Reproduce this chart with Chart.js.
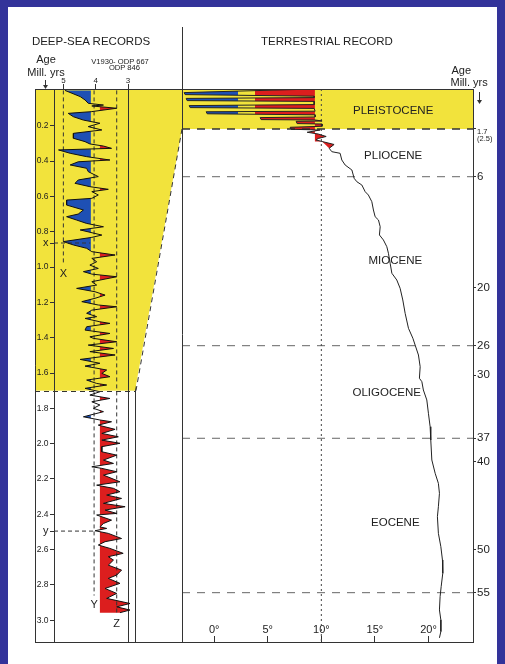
<!DOCTYPE html>
<html>
<head>
<meta charset="utf-8">
<script src="https://cdn.jsdelivr.net/npm/chart.js@4.4.1/dist/chart.umd.min.js"></script>
<style>
html, body { margin: 0; padding: 0; }
body { width: 505px; height: 664px; background: #33339a; position: relative; overflow: hidden;
       font-family: "Liberation Sans", Arial, sans-serif; color: #222; }
#sheet { position: absolute; left: 8px; top: 7px; width: 489px; height: 657px; background: #fff; }
canvas { position: absolute; left: 0; top: 0; }
.t { position: absolute; line-height: 0; white-space: nowrap; }
.c { transform: translateX(-50%); }
</style>
</head>
<body>
<div id="sheet"></div>
<canvas id="deepSea" width="505" height="664"></canvas>
<canvas id="terrestrial" width="505" height="664"></canvas>
<div class="t c" style="left:91px;top:41px;font-size:11.5px">DEEP-SEA RECORDS</div>
<div class="t c" style="left:327px;top:41px;font-size:11.5px">TERRESTRIAL RECORD</div>
<div class="t c" style="left:46px;top:59.2px;font-size:11px">Age</div>
<div class="t c" style="left:46px;top:71.7px;font-size:11px">Mill. yrs</div>
<div class="t c" style="left:120px;top:61.7px;font-size:7.6px">V1930- ODP 667</div>
<div class="t c" style="left:124.5px;top:68.4px;font-size:7.6px">ODP 846</div>
<div class="t" style="left:451.5px;top:69.7px;font-size:11px">Age</div>
<div class="t" style="left:450.5px;top:81.7px;font-size:11px">Mill. yrs</div>
<script>
// ---- deep-sea oxygen isotope record (age in Myr, d18O per mil) ----
const deepSeaAge = [0.000, 0.035, 0.054, 0.073, 0.083, 0.088, 0.101, 0.120, 0.130, 0.149,
  0.168, 0.186, 0.205, 0.224, 0.243, 0.271, 0.290, 0.303, 0.315, 0.328,
  0.337, 0.356, 0.375, 0.394, 0.404, 0.422, 0.441, 0.460, 0.488, 0.507,
  0.526, 0.545, 0.560, 0.573, 0.592, 0.611, 0.621, 0.649, 0.677, 0.700,
  0.715, 0.734, 0.753, 0.772, 0.790, 0.819, 0.832, 0.856, 0.875, 0.894,
  0.913, 0.932, 0.951, 0.970, 0.989, 1.008, 1.026, 1.040, 1.055, 1.083,
  1.102, 1.121, 1.140, 1.159, 1.177, 1.196, 1.215, 1.225, 1.244, 1.262,
  1.281, 1.291, 1.310, 1.319, 1.338, 1.357, 1.376, 1.395, 1.404, 1.423,
  1.442, 1.461, 1.479, 1.498, 1.523, 1.545, 1.561, 1.583, 1.602, 1.621,
  1.640, 1.659, 1.668, 1.687, 1.706, 1.725, 1.744, 1.763, 1.781, 1.800,
  1.819, 1.848, 1.866, 1.876, 1.895, 1.919, 1.942, 1.961, 1.980, 1.998,
  2.017, 2.046, 2.065, 2.093, 2.112, 2.131, 2.140, 2.159, 2.178, 2.216,
  2.235, 2.253, 2.272, 2.291, 2.310, 2.338, 2.357, 2.376, 2.395, 2.404,
  2.433, 2.452, 2.471, 2.480, 2.493, 2.508, 2.537, 2.555, 2.574, 2.593,
  2.621, 2.640, 2.659, 2.688, 2.716, 2.744, 2.763, 2.791, 2.820, 2.848,
  2.876, 2.905, 2.924, 2.942, 2.957];
const deepSeaO18 = [4.95, 4.48, 4.33, 4.23, 3.76, 4.12, 3.35, 4.12, 4.85, 4.69,
  4.38, 3.87, 4.23, 3.81, 4.69, 4.69, 4.33, 4.18, 3.76, 3.51,
  5.15, 4.79, 4.28, 3.56, 4.54, 4.79, 4.28, 4.23, 3.92, 4.54,
  4.64, 4.18, 3.61, 4.12, 3.92, 4.12, 4.90, 4.90, 4.38, 4.54,
  4.90, 4.59, 4.28, 3.76, 4.48, 3.81, 4.12, 5.00, 4.69, 4.28,
  4.12, 3.40, 4.12, 3.97, 4.18, 3.92, 4.38, 4.12, 3.35, 4.12,
  3.97, 4.59, 4.02, 3.71, 4.02, 4.43, 3.92, 3.35, 4.12, 4.28,
  3.97, 4.33, 3.87, 3.56, 4.28, 4.33, 3.56, 4.18, 4.07, 3.35,
  4.23, 3.45, 4.18, 3.40, 4.48, 3.87, 4.33, 3.66, 3.81, 3.56,
  4.28, 3.97, 3.66, 4.33, 3.87, 4.18, 3.56, 4.12, 3.87, 4.07,
  3.76, 4.38, 3.87, 3.51, 3.92, 3.40, 3.81, 3.30, 3.81, 3.25,
  3.81, 3.81, 3.35, 3.76, 3.45, 4.12, 3.81, 3.35, 3.76, 3.25,
  3.97, 3.45, 3.25, 3.66, 3.20, 3.76, 3.09, 3.71, 3.35, 3.97,
  3.51, 3.76, 3.87, 3.66, 4.02, 3.61, 3.20, 3.71, 3.92, 3.56,
  3.15, 3.61, 3.45, 3.61, 3.20, 3.35, 3.61, 3.25, 3.71, 3.35,
  3.66, 2.94, 3.35, 2.94, 3.25];
const coldO18 = 4.15;   // blue beyond this
const warmO18 = 3.87;   // red beyond this

const o18Ticks = [3, 4, 5];
const deepSeaAgeTicks = [0.2, 0.4, 0.6, 0.8, 1.0, 1.2, 1.4, 1.6, 1.8, 2.0, 2.2, 2.4, 2.6, 2.8, 3.0];

// trend lines X, Y, Z and the x / y markers
const trendLabels = ['X', 'Y', 'Z'];
const trendO18 = [5.0, 4.05, 3.35];
const trendEndAge = [0.99, 2.86, 2.97];
const markerLabels = ['x', 'y'];
const markerAges = [0.864, 2.495];
const markerEndO18 = [4.17, 4.02];

// ---- terrestrial temperature record (age in Myr, temperature in deg C) ----
const terrestrialAge = [0.000, 0.153, 0.238, 0.306, 0.366, 0.400, 0.493, 0.527, 0.663, 0.706,
  0.791, 0.825, 0.944, 0.969, 1.054, 1.097, 1.190, 1.216, 1.301, 1.318,
  1.360, 1.373, 1.471, 1.488, 1.585, 1.628, 1.727, 1.790, 1.997, 2.151,
  2.376, 2.557, 2.692, 2.827, 3.097, 3.440, 3.746, 3.890, 4.494, 4.945,
  5.396, 6.20, 6.63, 7.05, 7.89, 8.31, 9.15, 10.20, 11.05, 11.46,
  12.31, 13.35, 13.98, 14.83, 15.66, 16.92, 18.18, 19.03, 20.06, 21.27,
  22.65, 24.20, 25.23, 25.93, 27.27, 28.87, 30.36, 30.74, 31.66, 32.76,
  34.23, 35.72, 37.22, 39.78, 41.31, 42.45, 43.58, 45.10, 46.23, 48.11,
  49.63, 51.17, 52.73, 54.30, 55.47, 57.03, 58.20, 59.57, 60.31];
const terrestrialTemp = [9.33, -2.80, -2.71, 9.33, 9.33, -2.61, -2.52, 9.33, 9.33, -2.33,
  -2.24, 9.33, 9.42, -0.75, -0.65, 9.42, 9.42, 4.29, 4.38, 9.42,
  10.07, 7.65, 7.74, 10.07, 10.07, 7.09, 7.18, 9.89, 8.68, 9.70,
  10.45, 9.70, 9.51, 10.07, 11.19, 10.73, 10.98, 11.75, 11.91, 12.22,
  12.85, 13.06, 13.31, 13.78, 14.09, 14.39, 14.71, 14.86, 15.02, 15.33,
  15.49, 15.42, 15.79, 16.11, 16.26, 16.42, 16.58, 17.04, 17.35, 17.60,
  17.82, 18.13, 18.54, 18.75, 19.06, 19.22, 19.15, 19.38, 19.52, 19.84,
  19.99, 20.15, 20.21, 20.31, 20.62, 20.92, 21.02, 20.92, 20.83, 20.92,
  21.15, 21.30, 21.33, 21.18, 21.08, 21.02, 21.15, 21.15, 21.02];
const glacialEnd = 33;        // last point of the filled glacial swings
const glacialBase = 9.4;      // fill is drawn back to this temperature
const lobeRange = [33, 35];
const coldTemp = 2.2, warmTemp = 3.8;

const tempTicks = [0, 5, 10, 15, 20];
const ageTicks = [1.7, 6, 20, 26, 30, 37, 40, 50, 55];
const epochBoundaries = [1.7, 6, 26, 37, 55];
const epochNames = ['PLEISTOCENE', 'PLIOCENE', 'MIOCENE', 'OLIGOCENE', 'EOCENE'];
const epochLabelAge = [1.08, 4.40, 17.0, 32.3, 47.3];
const epochLabelTemp = [16.7, 16.7, 16.9, 16.1, 16.9];

// the terrestrial age axis is drawn with uneven spacing
const ageAxisKnots = [0, 1.7, 6, 20, 26, 30, 37, 40, 50, 55, 60.8];
const ageAxisFrac = [0, 0.0723, 0.1586, 0.3593, 0.4642, 0.5172, 0.6316, 0.6740, 0.8336, 0.9108, 1];

const FONT = '"Liberation Sans", Arial, sans-serif';
const YELLOW = '#f2e33c', BLUE = '#1e50b4', RED = '#dc1e1e', INK = '#222', LINE = '#333';
const FRAME_LEFT = 35, DIVIDER_TOP = 27;
const pleistoceneBase = epochBoundaries[0];

Chart.defaults.font.family = FONT;
Chart.defaults.color = INK;

function interp(v, xs, ys) {
  let i = 1;
  while (i < xs.length - 1 && v > xs[i]) i++;
  const t = (v - xs[i - 1]) / (xs[i] - xs[i - 1]);
  return ys[i - 1] + t * (ys[i] - ys[i - 1]);
}

class AgeScale extends Chart.LinearScale {
  static id = 'agescale';
  static defaults = {};
  getPixelForValue(value) {
    if (value === null || value === undefined || isNaN(value)) return NaN;
    return this.getPixelForDecimal(interp(value, ageAxisKnots, ageAxisFrac));
  }
  getValueForPixel(pixel) {
    return interp(this.getDecimalForPixel(pixel), ageAxisFrac, ageAxisKnots);
  }
}
Chart.register(AgeScale);

// part of a curve lying beyond `limit`, closed back along the limit line
function sidePolygon(vals, ages, limit, above) {
  const inside = v => above ? v > limit : v < limit;
  const pts = [{x: limit, y: ages[0]}];
  for (let i = 0; i < vals.length; i++) {
    if (i > 0 && inside(vals[i]) !== inside(vals[i - 1])) {
      const t = (limit - vals[i - 1]) / (vals[i] - vals[i - 1]);
      pts.push({x: limit, y: ages[i - 1] + t * (ages[i] - ages[i - 1])});
    }
    pts.push({x: inside(vals[i]) ? vals[i] : limit, y: ages[i]});
  }
  pts.push({x: limit, y: ages[ages.length - 1]});
  return pts;
}

const toPoints = (xs, ys) => xs.map((v, i) => ({x: v, y: ys[i]}));

const lineSet = (data, color, width, dash, order) => ({
  data, showLine: true, borderColor: color, borderWidth: width, borderDash: dash || [],
  pointRadius: 0, fill: false, order: order || 0, borderJoinStyle: 'round'
});
const fillSet = (data, color) => ({
  data, showLine: true, fill: 'shape', backgroundColor: color, borderColor: 'transparent',
  borderWidth: 0, pointRadius: 0, order: 5
});

function arrow(ctx, x, y0, y1) {
  ctx.beginPath();
  ctx.moveTo(x, y0); ctx.lineTo(x, y1 - 3);
  ctx.stroke();
  ctx.beginPath();
  ctx.moveTo(x - 2.5, y1 - 4); ctx.lineTo(x + 2.5, y1 - 4); ctx.lineTo(x, y1);
  ctx.closePath(); ctx.fill();
}

// ---------------- deep-sea panel ----------------
const o18Min = 2.784, o18Max = 5.29;

const deepSeaFrame = {
  id: 'deepSeaFrame',
  beforeDraw(chart) {
    const {ctx, chartArea: a, scales: {y}} = chart;
    ctx.save();
    ctx.fillStyle = YELLOW;
    ctx.fillRect(FRAME_LEFT, a.top, a.right - FRAME_LEFT, y.getPixelForValue(pleistoceneBase) - a.top);
    ctx.restore();
  },
  afterDraw(chart) {
    const {ctx, chartArea: a, scales: {x, y}} = chart;
    ctx.save();
    ctx.strokeStyle = LINE; ctx.fillStyle = LINE; ctx.lineWidth = 1;
    ctx.beginPath();
    ctx.moveTo(FRAME_LEFT + 0.5, a.top); ctx.lineTo(FRAME_LEFT + 0.5, a.bottom + 0.5);
    ctx.moveTo(FRAME_LEFT, a.top + 0.5); ctx.lineTo(a.left, a.top + 0.5);
    ctx.moveTo(FRAME_LEFT, a.bottom + 0.5); ctx.lineTo(a.right, a.bottom + 0.5);
    ctx.moveTo(a.right + 0.5, a.top); ctx.lineTo(a.right + 0.5, a.bottom + 0.5);
    ctx.stroke();
    const yb = Math.round(y.getPixelForValue(pleistoceneBase)) + 0.5;
    ctx.setLineDash([5, 4]);
    ctx.beginPath(); ctx.moveTo(FRAME_LEFT, yb); ctx.lineTo(a.right, yb); ctx.stroke();
    ctx.setLineDash([]);
    arrow(ctx, 45.5, 80, 89);
    ctx.fillStyle = INK;
    ctx.font = '11px ' + FONT;
    ctx.textAlign = 'center'; ctx.textBaseline = 'middle';
    trendLabels.forEach((t, i) => {
      ctx.fillText(t, x.getPixelForValue(trendO18[i]), y.getPixelForValue(trendEndAge[i]) + 9);
    });
    ctx.restore();
  }
};

const deepSeaSets = [
  lineSet(toPoints(deepSeaO18, deepSeaAge), '#111', 1, null, 0),
  ...trendO18.map((v, i) => lineSet([{x: v, y: 0}, {x: v, y: trendEndAge[i]}], LINE, 1, [4, 3], 1)),
  ...markerAges.map((a, i) => lineSet([{x: o18Max, y: a}, {x: markerEndO18[i], y: a}], LINE, 1, [4, 3], 1)),
  fillSet(sidePolygon(deepSeaO18, deepSeaAge, coldO18, true), BLUE),
  fillSet(sidePolygon(deepSeaO18, deepSeaAge, warmO18, false), RED)
];

const deepSeaChart = new Chart(document.getElementById('deepSea'), {
  type: 'scatter',
  data: { datasets: deepSeaSets },
  options: {
    responsive: false, animation: false, events: [],
    layout: { padding: { left: 34, top: 74, right: 370, bottom: 22 } },
    plugins: { legend: { display: false }, tooltip: { enabled: false } },
    scales: {
      x: {
        type: 'linear', position: 'top', reverse: true, min: o18Min, max: o18Max,
        afterBuildTicks: s => { s.ticks = o18Ticks.map(v => ({value: v})); },
        afterFit: s => { s.height = 15; },
        ticks: { autoSkip: false, maxRotation: 0, padding: -2, font: { size: 8 }, color: INK,
                 callback: v => String(v) },
        grid: { color: c => (c.tick && c.tick.value === 3) ? LINE : 'transparent',
                tickColor: LINE, tickLength: 5, lineWidth: 1 },
        border: { color: LINE, width: 1 }
      },
      y: {
        type: 'linear', position: 'left', reverse: true, min: -0.008, max: 3.123,
        afterBuildTicks: s => { s.ticks = deepSeaAgeTicks.concat(markerAges).map(v => ({value: v})); },
        afterFit: s => { s.width = 20; },
        ticks: {
          autoSkip: false, padding: 1.5, color: INK,
          font: c => ({ size: (c.tick && markerAges.indexOf(c.tick.value) >= 0) ? 11 : 8.5 }),
          callback: v => {
            const m = markerAges.indexOf(v);
            return m >= 0 ? markerLabels[m] : v.toFixed(1);
          }
        },
        grid: { drawOnChartArea: false, tickLength: 4, tickColor: LINE },
        border: { color: LINE, width: 1 }
      }
    }
  },
  plugins: [deepSeaFrame]
});

// ---------------- terrestrial panel ----------------
function glacialFill(c) {
  const chart = c.chart, a = chart.chartArea;
  if (!a || !chart.scales.x) return RED;
  const xs = chart.scales.x, span = a.right - a.left;
  const t1 = (xs.getPixelForValue(coldTemp) - a.left) / span;
  const t2 = (xs.getPixelForValue(warmTemp) - a.left) / span;
  const g = chart.ctx.createLinearGradient(a.left, 0, a.right, 0);
  g.addColorStop(0, BLUE); g.addColorStop(t1, BLUE);
  g.addColorStop(t1, YELLOW); g.addColorStop(t2, YELLOW);
  g.addColorStop(t2, RED); g.addColorStop(1, RED);
  return g;
}

const terrestrialFrame = {
  id: 'terrestrialFrame',
  beforeDraw(chart) {
    const {ctx, chartArea: a, scales: {y}} = chart;
    const L = deepSeaChart.chartArea;
    const yL = deepSeaChart.scales.y.getPixelForValue(pleistoceneBase);
    const yR = y.getPixelForValue(pleistoceneBase);
    ctx.save();
    ctx.fillStyle = YELLOW;
    ctx.fillRect(a.left, a.top, a.right - a.left, yR - a.top);
    ctx.beginPath();
    ctx.moveTo(L.right, a.top); ctx.lineTo(a.left, a.top);
    ctx.lineTo(a.left, yR); ctx.lineTo(L.right, yL);
    ctx.closePath(); ctx.fill();
    ctx.restore();
  },
  afterDraw(chart) {
    const {ctx, chartArea: a, scales: {x, y}} = chart;
    const L = deepSeaChart.chartArea;
    const yL = deepSeaChart.scales.y.getPixelForValue(pleistoceneBase);
    const yR = y.getPixelForValue(pleistoceneBase);
    ctx.save();
    ctx.strokeStyle = LINE; ctx.fillStyle = LINE; ctx.lineWidth = 1;
    ctx.beginPath();
    ctx.moveTo(a.left + 0.5, DIVIDER_TOP); ctx.lineTo(a.left + 0.5, a.bottom);
    ctx.moveTo(L.right, a.top + 0.5); ctx.lineTo(a.right, a.top + 0.5);
    ctx.moveTo(L.right, a.bottom + 0.5); ctx.lineTo(a.left, a.bottom + 0.5);
    ctx.stroke();
    ctx.setLineDash([5, 4]);
    ctx.beginPath(); ctx.moveTo(a.left, yR); ctx.lineTo(L.right + 1, yL); ctx.stroke();
    ctx.setLineDash([]);
    arrow(ctx, 479.5, 92, 104);
    ctx.fillStyle = INK;
    ctx.font = '11.5px ' + FONT;
    ctx.textAlign = 'center'; ctx.textBaseline = 'alphabetic';
    epochNames.forEach((n, i) => {
      ctx.fillText(n, x.getPixelForValue(epochLabelTemp[i]), y.getPixelForValue(epochLabelAge[i]));
    });
    ctx.restore();
  }
};

const glacialPts = toPoints(terrestrialTemp.slice(0, glacialEnd + 1), terrestrialAge.slice(0, glacialEnd + 1));
const glacialShape = [{x: glacialBase, y: terrestrialAge[0]}]
  .concat(glacialPts, [{x: glacialBase, y: terrestrialAge[glacialEnd]}]);
const lobeShape = toPoints(terrestrialTemp.slice(lobeRange[0], lobeRange[1] + 1),
                           terrestrialAge.slice(lobeRange[0], lobeRange[1] + 1));

const terrestrialSets = [
  lineSet(toPoints(terrestrialTemp, terrestrialAge), INK, 1, null, 0),
  lineSet([{x: 10, y: 0}, {x: 10, y: 60.8}], '#444', 1, [2, 3], 2),
  ...epochBoundaries.map((b, i) => lineSet([{x: -3, y: b}, {x: 24.15, y: b}],
      i === 0 ? '#333' : '#666', i === 0 ? 1.3 : 1, [8, 7], 3)),
  fillSet(glacialShape, glacialFill),
  fillSet(lobeShape, RED)
];

new Chart(document.getElementById('terrestrial'), {
  type: 'scatter',
  data: { datasets: terrestrialSets },
  options: {
    responsive: false, animation: false, events: [],
    layout: { padding: { left: 182, top: 89, right: 7, bottom: 22 } },
    plugins: { legend: { display: false }, tooltip: { enabled: false } },
    scales: {
      x: {
        type: 'linear', position: 'bottom', min: -3, max: 24.15,
        afterBuildTicks: s => { s.ticks = tempTicks.map(v => ({value: v})); },
        afterFit: s => { s.height = 0; },
        // mirror only switches off the label clip box here, labels sit inside the plot
        ticks: { autoSkip: false, maxRotation: 0, mirror: true, padding: 5, font: { size: 11 }, color: INK,
                 callback: v => v + '°' },
        grid: { drawOnChartArea: false, tickLength: -6, tickColor: LINE },
        border: { color: LINE, width: 1 }
      },
      y: {
        type: 'agescale', position: 'right', reverse: true, min: 0, max: 60.8,
        afterBuildTicks: s => { s.ticks = ageTicks.map(v => ({value: v})); },
        afterFit: s => { s.width = 25; },
        ticks: {
          autoSkip: false, padding: 1, color: INK,
          font: c => (c.tick && c.tick.value === 1.7) ? { size: 7.5, lineHeight: 0.87 } : { size: 11.5 },
          callback: v => v === 1.7 ? ['', '', '1.7', '(2.5)'] : String(v)
        },
        grid: { drawOnChartArea: false, tickLength: 3, tickColor: LINE },
        border: { color: LINE, width: 1 }
      }
    }
  },
  plugins: [terrestrialFrame]
});
</script>
</body>
</html>
